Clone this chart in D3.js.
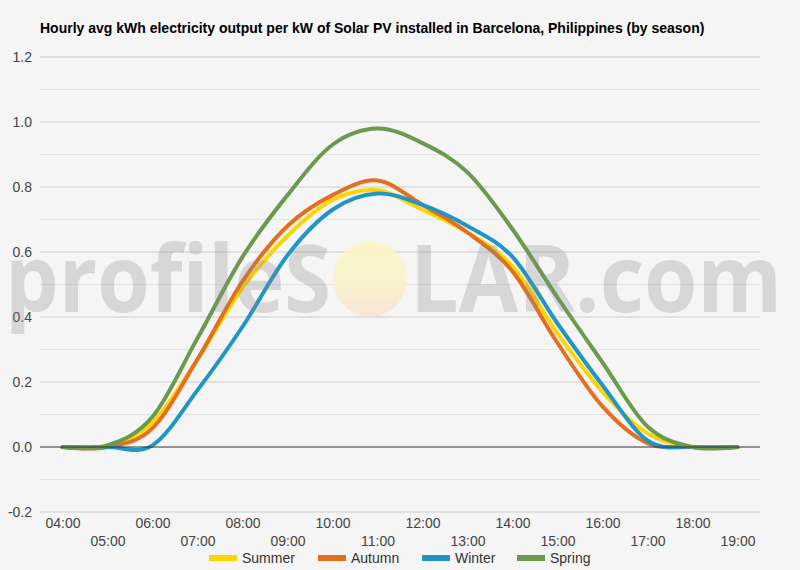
<!DOCTYPE html>
<html><head><meta charset="utf-8">
<script src="https://cdn.jsdelivr.net/npm/d3@7/dist/d3.min.js"></script>
<style>
html,body{margin:0;padding:0;background:#f5f5f5;}
svg{display:block;font-family:Arial,"Liberation Sans",sans-serif;}
</style></head>
<body>
<svg id="chart" width="800" height="570"></svg>
<script>
const hours = ["04:00","05:00","06:00","07:00","08:00","09:00","10:00","11:00","12:00","13:00","14:00","15:00","16:00","17:00","18:00","19:00"];
const summer = [0, 0.005, 0.075, 0.27, 0.49, 0.65, 0.76, 0.79, 0.73, 0.66, 0.555, 0.35, 0.17, 0.042, 0, 0];
const autumn = [0, 0, 0.058, 0.27, 0.51, 0.68, 0.775, 0.82, 0.745, 0.66, 0.54, 0.32, 0.125, 0.012, 0, 0];
const winter = [0, 0, 0.005, 0.175, 0.37, 0.59, 0.73, 0.78, 0.745, 0.68, 0.585, 0.38, 0.19, 0.02, 0, 0];
const spring = [0, 0.005, 0.093, 0.335, 0.585, 0.775, 0.93, 0.98, 0.935, 0.845, 0.67, 0.46, 0.26, 0.063, 0, 0];
const seriesNames = ["Summer","Autumn","Winter","Spring"];
const seriesColors = ["#ffd400","#e46f1e","#2196c4","#6b9a4e"];
const yTicks = [-0.2, 0, 0.2, 0.4, 0.6, 0.8, 1.0, 1.2];
const yTickLabels = ["-0.2","0.0","0.2","0.4","0.6","0.8","1.0","1.2"];
const title = "Hourly avg kWh electricity output per kW of Solar PV installed in Barcelona, Philippines (by season)";

const series = [summer, autumn, winter, spring];
const svg = d3.select("#chart");
svg.append("rect").attr("width",800).attr("height",570).attr("fill","#f5f5f5");

const plotLeft = 40, plotRight = 760, plotTop = 57, plotBottom = 512;
const x = d3.scalePoint().domain(hours).range([plotLeft, plotRight]).padding(0.5);
const y = d3.scaleLinear().domain([-0.2, 1.2]).range([plotBottom, plotTop]);

// title
svg.append("text").attr("x", 40).attr("y", 33)
  .attr("font-size", 14).attr("font-weight", "bold").attr("fill", "#000")
  .text(title);

// minor gridlines
const minor = d3.range(-2, 13).map(i => i / 10).filter(v => Math.round(v*10) % 2 !== 0);
svg.append("g").selectAll("line").data(minor).join("line")
  .attr("x1", plotLeft).attr("x2", plotRight)
  .attr("y1", d => y(d)).attr("y2", d => y(d))
  .attr("stroke", "#e4e4e4").attr("stroke-width", 1);
// major gridlines
svg.append("g").selectAll("line").data(yTicks.filter(v => v !== 0)).join("line")
  .attr("x1", plotLeft).attr("x2", plotRight)
  .attr("y1", d => y(d)).attr("y2", d => y(d))
  .attr("stroke", "#cccccc").attr("stroke-width", 1);

// y axis labels
const yAxis = d3.axisLeft(y).tickValues(yTicks).tickSize(0).tickPadding(8)
  .tickFormat((d, i) => yTickLabels[i]);
const gy = svg.append("g").attr("transform", `translate(${plotLeft},0)`).call(yAxis);
gy.select(".domain").remove();
gy.selectAll("text").attr("font-size", 14).attr("fill", "#444")
  .attr("font-family", "Arial,'Liberation Sans',sans-serif");

// x axis labels (staggered)
const xAxis = d3.axisBottom(x).tickSize(0).tickPadding(0);
const gx = svg.append("g").attr("transform", `translate(0,${plotBottom})`).call(xAxis);
gx.select(".domain").remove();
gx.selectAll("text").attr("font-size", 14).attr("fill", "#444")
  .attr("font-family", "Arial,'Liberation Sans',sans-serif")
  .attr("dy", null)
  .attr("y", (d, i) => i % 2 === 0 ? 16 : 34);

// lines
const line = d3.line()
  .x((d, i) => x(hours[i]))
  .y(d => y(d))
  .curve(d3.curveCardinal.tension(0));
svg.append("g").selectAll("path").data(series).join("path")
  .attr("d", d => line(d))
  .attr("fill", "none")
  .attr("stroke", (d, i) => seriesColors[i])
  .attr("stroke-width", 4)
  .attr("stroke-linejoin", "round")
  .attr("stroke-linecap", "round");

// zero baseline
svg.append("line").attr("x1", plotLeft).attr("x2", plotRight)
  .attr("y1", y(0)).attr("y2", y(0)).attr("stroke", "#333").attr("stroke-width", 1);

// watermark
const defs = svg.append("defs");
const grad = defs.append("linearGradient").attr("id", "sun").attr("x1", 0).attr("y1", 0).attr("x2", 0).attr("y2", 1);
grad.append("stop").attr("offset", "0%").attr("stop-color", "#fbf7c0");
grad.append("stop").attr("offset", "55%").attr("stop-color", "#faf1c8");
grad.append("stop").attr("offset", "100%").attr("stop-color", "#f7e2d0");
const wm = svg.append("g").attr("pointer-events", "none");
wm.append("ellipse").attr("cx", 370).attr("cy", 279).attr("rx", 37).attr("ry", 38)
  .attr("fill", "url(#sun)").attr("opacity", 0.85);
wm.append("text").attr("x", 5).attr("y", 312)
  .attr("font-family", "'Open Sans','Noto Sans',sans-serif").attr("font-weight", "bold")
  .attr("font-size", 94).attr("fill", "#888").attr("opacity", 0.27)
  .attr("textLength", 326).attr("lengthAdjust", "spacingAndGlyphs")
  .text("profileS");
wm.append("text").attr("x", 410).attr("y", 312)
  .attr("font-family", "'Open Sans','Noto Sans',sans-serif").attr("font-weight", "bold")
  .attr("font-size", 94).attr("fill", "#888").attr("opacity", 0.27)
  .attr("textLength", 372).attr("lengthAdjust", "spacingAndGlyphs")
  .text("LAR.com");

// legend
const legendX = [209, 318, 422, 517];
const lg = svg.append("g");
seriesNames.forEach((n, i) => {
  lg.append("rect").attr("x", legendX[i]).attr("y", 555).attr("width", 28).attr("height", 6)
    .attr("fill", seriesColors[i]);
  lg.append("text").attr("x", legendX[i] + 33).attr("y", 563)
    .attr("font-size", 14).attr("fill", "#333").text(n);
});
</script>
</body></html>
